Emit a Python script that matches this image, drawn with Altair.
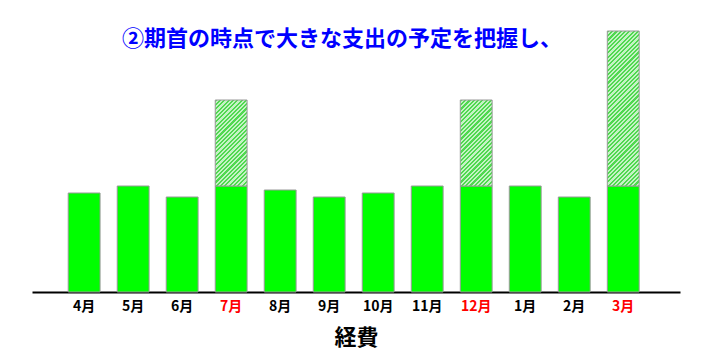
import json
import altair as alt
import pandas as pd

months = ["4月", "5月", "6月", "7月", "8月", "9月", "10月", "11月", "12月", "1月", "2月", "3月"]
base_cost = [99, 106, 95, 106, 102, 95, 99, 106, 106, 106, 95, 106]
extra_cost = [0, 0, 0, 86, 0, 0, 0, 0, 86, 0, 0, 155]
highlight = ["7月", "12月", "3月"]
title_text = "②期首の時点で大きな支出の予定を把握し、"
axis_title = "経費"

df = pd.DataFrame({"month": months, "base": base_cost, "extra": extra_cost})
df["top"] = df["base"] + df["extra"]

FONT = "Noto Sans CJK JP"
W, H = 648, 272
STEP = W / (12 - 0.35 + 2 * 0.786)
BAR_W = STEP * 0.65


def hatch(h, w=BAR_W, period=4.3, c1="#50d850", c2="#c4f3c4"):
    L = w + h
    k = L / (w * w + h * h)
    stops = []
    i = 0
    while i * period < L:
        a = i * period / L
        b = min((i + 0.5) * period / L, 1.0)
        e = min((i + 1) * period / L, 1.0)
        stops += [
            alt.GradientStop(color=c1, offset=a),
            alt.GradientStop(color=c1, offset=b),
            alt.GradientStop(color=c2, offset=b),
            alt.GradientStop(color=c2, offset=e),
        ]
        i += 1
    return alt.Gradient(gradient="linear", stops=stops, x1=0, y1=0, x2=k * w, y2=k * h)


label_test = "indexof(%s, datum.value) >= 0" % json.dumps(highlight, ensure_ascii=False)

X = alt.X(
    "month:N",
    sort=months,
    scale=alt.Scale(paddingInner=0.35, paddingOuter=0.786, align=0.47),
    axis=alt.Axis(
        title=axis_title,
        labelAngle=0,
        labelFont=FONT,
        labelFontSize=14,
        labelFontWeight="bold",
        labelColor={"condition": {"test": label_test, "value": "#ff0000"}, "value": "#000000"},
        labelPadding=7,
        ticks=False,
        grid=False,
        domainColor="#000000",
        domainWidth=2,
        titleFont=FONT,
        titleFontSize=22,
        titleFontWeight="bold",
        titleColor="#000000",
        titlePadding=14,
    ),
)
Yscale = alt.Scale(domain=[0, H])

base_bar = alt.Chart(df).mark_bar(fill="#00ff00", stroke="#999999", strokeWidth=1).encode(
    x=X, y=alt.Y("base:Q", scale=Yscale, axis=None)
)

layers = [base_bar]
for h in sorted(set(v for v in extra_cost if v > 0)):
    layers.append(
        alt.Chart(df)
        .transform_filter(alt.datum.extra == h)
        .mark_bar(fill=hatch(h), stroke="#999999", strokeWidth=1)
        .encode(x=X, y=alt.Y("base:Q", scale=Yscale, axis=None), y2="top:Q")
    )

chart = (
    alt.layer(*layers)
    .properties(
        width=W,
        height=H,
        background="#ffffff",
        autosize=alt.AutoSizeParams(type="none"),
        padding={"left": 32, "top": 20, "right": 23, "bottom": 66},
        title=alt.TitleParams(
            text=title_text,
            font=FONT,
            fontSize=22,
            fontWeight="bold",
            color="#0000ff",
            anchor="middle",
            offset=0,
            dx=-14,
            dy=31,
        ),
    )
    .configure_view(stroke="transparent", strokeWidth=0)
)

chart.save("out.html", embed_options={"renderer": "svg", "actions": False})
